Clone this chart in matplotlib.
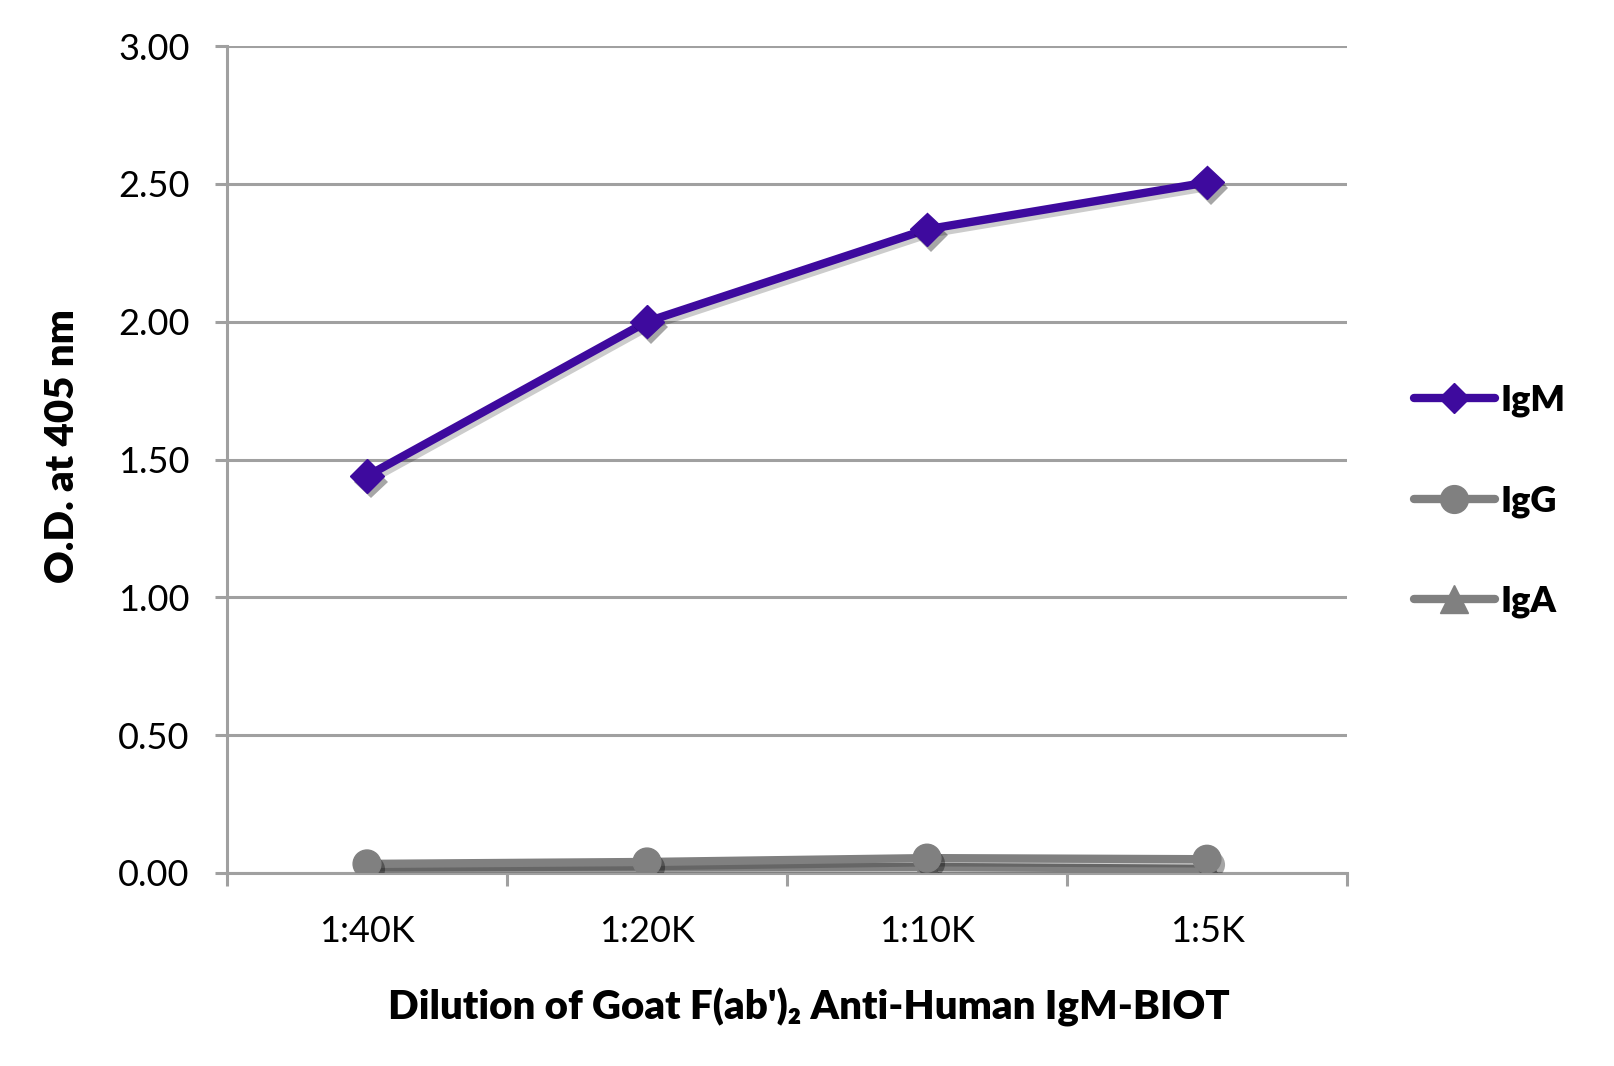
import matplotlib
matplotlib.use("Agg")
import matplotlib.pyplot as plt
import matplotlib.patheffects as pe
from matplotlib.ticker import FixedLocator
from matplotlib.lines import Line2D

categories = ["1:40K", "1:20K", "1:10K", "1:5K"]
igm = [1.44, 2.00, 2.335, 2.505]
igg = [0.033, 0.040, 0.054, 0.050]
iga = [0.020, 0.020, 0.022, 0.015]
yticks = [0.0, 0.5, 1.0, 1.5, 2.0, 2.5, 3.0]

plt.rcParams['font.family'] = ['Lato', 'DejaVu Sans']

W, H = 1614, 1066
fig = plt.figure(figsize=(W/100, H/100), dpi=100)
L, R, T, B = 227, 1347, 46, 873
ax = fig.add_axes([L/W, 1-B/H, (R-L)/W, (B-T)/H])

purple = "#3E0A9E"
gray = "#808080"
grid = "#A0A0A0"

x = list(range(len(categories)))
line_sh = [pe.SimpleLineShadow(offset=(2, -3), alpha=0.2, shadow_color="#000000"), pe.Normal()]
mk_sh = [pe.SimplePatchShadow(offset=(3, -4), alpha=0.35, shadow_rgbFace="#000000"), pe.Normal()]

def series(y, color, marker, ms, z):
    ax.plot(x, y, color=color, lw=6, zorder=z, path_effects=line_sh, solid_capstyle="round")
    ax.plot(x, y, color=color, linestyle="none", marker=marker, ms=ms, zorder=z + 0.5, path_effects=mk_sh)

series(iga, gray, "^", 22, 3)
series(igg, gray, "o", 20, 4)
series(igm, purple, "D", 17, 5)

ax.set_xlim(-0.5, len(categories)-0.5)
ax.set_ylim(0, 3.0)
ax.set_yticks(yticks)
ax.set_yticklabels([f"{v:.2f}" for v in yticks])
ax.set_xticks(x)
ax.set_xticklabels(categories)
ax.xaxis.set_minor_locator(FixedLocator([i - 0.5 for i in range(len(categories)+1)]))

ax.grid(axis="y", color=grid, lw=2.2, zorder=0)
ax.set_axisbelow(True)
for s in ["top", "right"]:
    ax.spines[s].set_visible(False)
for s in ["left", "bottom"]:
    ax.spines[s].set_color(grid)
    ax.spines[s].set_linewidth(2.2)
ax.tick_params(axis="y", which="major", length=9, width=2.2, color=grid, direction="out", pad=18, labelsize=26)
ax.tick_params(axis="x", which="major", length=0, pad=30, labelsize=26)
ax.tick_params(axis="x", which="minor", length=9, width=2.2, color=grid, direction="out")

fig.text(62/W, 1-446/H, "O.D. at 405 nm", rotation=90, ha="center", va="center", fontsize=29, fontweight="heavy")
fig.text(809/W, 1-1007/H, "Dilution of Goat F(ab')\u2082 Anti-Human IgM-BIOT", ha="center", va="center", fontsize=29, fontweight="heavy")

handles = [
    Line2D([], [], color=purple, lw=6, marker="D", ms=15, solid_capstyle="round"),
    Line2D([], [], color=gray, lw=6, marker="o", ms=20, solid_capstyle="round"),
    Line2D([], [], color=gray, lw=6, marker="^", ms=20, solid_capstyle="round"),
]
leg = fig.legend(handles, ["IgM", "IgG", "IgA"], loc="center left", bbox_to_anchor=(1381/W, 1-501/H),
                 frameon=False, handlelength=2.25, handletextpad=0.15, labelspacing=1.85,
                 prop={"size": 26, "weight": "heavy"})

fig.savefig("out.png", dpi=100)
